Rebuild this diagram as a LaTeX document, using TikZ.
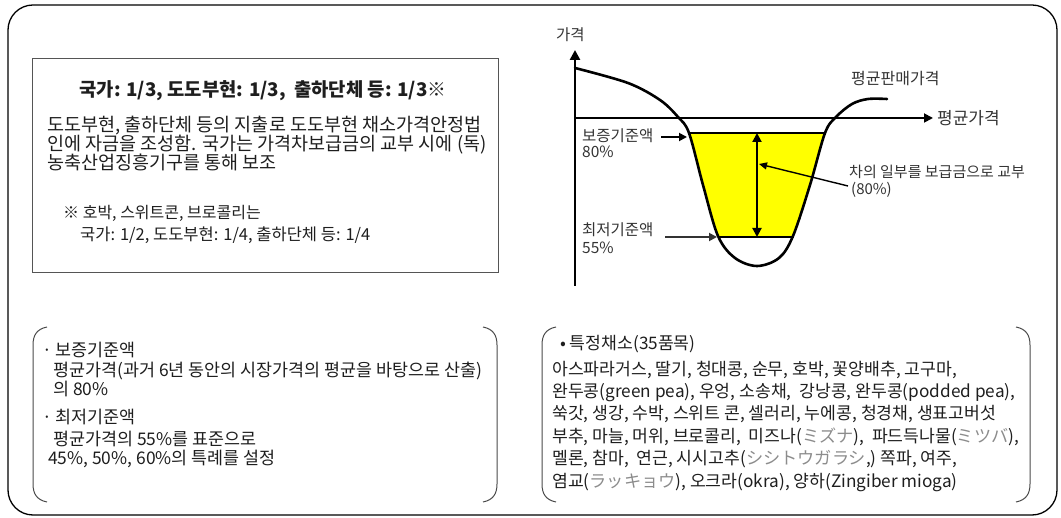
\documentclass[tikz,border=0pt]{standalone}
\usepackage{fontspec}
\setmainfont{Noto Sans CJK KR}
\usetikzlibrary{arrows.meta}
\definecolor{txt}{HTML}{1E1E1E}
\definecolor{ctxt}{HTML}{333333}
\definecolor{kana}{HTML}{8C8C8C}
\definecolor{boxline}{HTML}{555555}
\definecolor{brk}{HTML}{4A4A4A}
\definecolor{yel}{HTML}{FFFF00}
\newcommand\myfs[1]{\fontsize{#1}{#1}\selectfont}
\newcommand\kn[1]{\textcolor{kana}{#1}}
\begin{document}
\begin{tikzpicture}[x=1pt,y=-1pt,
  tl/.style={anchor=base west,inner sep=0pt,text=txt},
  tc/.style={anchor=base,inner sep=0pt,text=txt},
  cl/.style={anchor=base west,inner sep=0pt,text=ctxt},
  bracket/.style={draw=brk,line width=1pt},
  curveline/.style={line width=2.6pt,line join=round,line cap=round},
  thinline/.style={line width=1.8pt},
  tip/.style={-{Triangle[length=8pt,width=8pt]}}
]
\useasboundingbox (0,0) rectangle (1061,518);
% outer frame
\draw[line width=1.3pt,rounded corners=25pt] (8,5) rectangle (1057,515);

% ---------- top-left box ----------
\draw[boxline,line width=1pt] (32,59) rectangle (498,273);
\node[tc,font=\myfs{18.8}\bfseries] (title) at (263,97) {국가: 1/3, 도도부현: 1/3,\ \ 출하단체 등: 1/3※};
\node[tl,font=\myfs{18.5}] (b1) at (47,132) {도도부현, 출하단체 등의 지출로 도도부현 채소가격안정법};
\node[tl,font=\myfs{18.5}] (b2) at (47,150.5) {인에 자금을 조성함. 국가는 가격차보급금의 교부 시에 (독)};
\node[tl,font=\myfs{18.5}] (b3) at (47,170) {농축산업징흥기구를 통해 보조};
\node[tl,font=\myfs{16}] (n1) at (63,219) {※ 호박, 스위트콘, 브로콜리는};
\node[tl,font=\myfs{16.5}] (n2) at (80,241) {국가: 1/2, 도도부현: 1/4, 출하단체 등: 1/4};

% ---------- chart ----------
\coordinate (yb) at (575,286);
\coordinate (yt) at (575,50);
\coordinate (ao) at (575,118);
\coordinate (ae) at (933,118);
\draw[line width=2.6pt,-{Triangle[length=10pt,width=10pt]}] (yb) -- (yt);
\begin{scope}
  \clip (600,133) rectangle (900,237);
  \fill[yel] plot[smooth,tension=0.55] coordinates {(660,100) (678,117) (689,133) (703,185) (718,236) (735,258) (757,266) (779,258) (793,236) (810,185) (825,133) (836,117) (852,104)} -- cycle;
\end{scope}
\draw[line width=1.8pt,-{Triangle[length=9pt,width=9pt]}] (ao) -- (ae);
\coordinate (h1a) at (689,133);
\coordinate (h1b) at (826,133);
\coordinate (h2a) at (718,237);
\coordinate (h2b) at (794,237);
\draw[thinline] (h1a) -- (h1b);
\draw[thinline] (h2a) -- (h2b);
\draw[curveline] plot[smooth,tension=0.55] coordinates {(575,68) (628,83) (660,100) (678,117) (689,133) (703,185) (718,236) (735,258) (757,266) (779,258) (793,236) (810,185) (825,133) (836,117) (852,104) (868,99) (887,99)};
\coordinate (va) at (757,133);
\coordinate (vb) at (757,237);
\draw[line width=2pt,{Triangle[length=9pt,width=9pt]}-{Triangle[length=9pt,width=9pt]}] (va) -- (vb);

\node[cl,font=\myfs{15.5}] (ylab) at (556,41) {가격};
\node[cl,font=\myfs{16}] (pmp) at (851,85) {평균판매가격};
\node[cl,font=\myfs{17}] (avg) at (937,124.5) {평균가격};
\node[cl,font=\myfs{15.5}] (bz) at (582,142) {보증기준액};
\node[cl,font=\myfs{15.5}] (bz2) at (582,158) {80\%};
\node[cl,font=\myfs{15.5}] (cz) at (582,236) {최저기준액};
\node[cl,font=\myfs{15.5}] (cz2) at (582,254) {55\%};
\node[cl,font=\myfs{15}] (ch) at (849,178) {차의 일부를 보급금으로 교부};
\node[cl,font=\myfs{15}] (ch2) at (851,195) {(80\%)};

\coordinate (bza) at (661,137);
\coordinate (bzb) at (687,137);
\draw[line width=1.8pt,tip] (bza) -- (bzb);
\coordinate (cza) at (665,237);
\coordinate (czb) at (717,237);
\draw[line width=1.8pt,draw=ctxt,-{Triangle[length=8pt,width=8pt]},ctxt] (cza) -- (czb);
\coordinate (pa) at (848,186);
\coordinate (pb) at (759,164);
\draw[line width=1.4pt,-{Triangle[length=8pt,width=7pt]}] (pa) -- (pb);

% ---------- bottom-left bracket box ----------
\draw[bracket] (47,327) .. controls (37,329) and (33,335) .. (33,345) -- (33,484) .. controls (33,494) and (37,500) .. (47,502);
\draw[bracket] (483,327) .. controls (493,329) and (497,335) .. (497,345) -- (497,484) .. controls (497,494) and (493,500) .. (483,502);
\node[tl,font=\myfs{17.4}] (l1) at (42,357) {· 보증기준액};
\node[tl,font=\myfs{17.4}] (l2) at (53,377) {평균가격(과거 6년 동안의 시장가격의 평균을 바탕으로 산출)};
\node[tl,font=\myfs{17.4}] (l3) at (53,396) {의 80\%};
\node[tl,font=\myfs{17.4}] (l4) at (42,424) {· 최저기준액};
\node[tl,font=\myfs{17.4}] (l5) at (53,446) {평균가격의 55\%를 표준으로};
\node[tl,font=\myfs{17.4}] (l6) at (48,465) {45\%, 50\%, 60\%의 특례를 설정};

% ---------- bottom-right bracket box ----------
\draw[bracket] (556,327) .. controls (546,329) and (542,335) .. (542,345) -- (542,484) .. controls (542,494) and (546,500) .. (556,502);
\draw[bracket] (1016,327) .. controls (1026,329) and (1030,335) .. (1030,345) -- (1030,484) .. controls (1030,494) and (1026,500) .. (1016,502);
\node[tl,font=\myfs{17.2}] (r0) at (560,350) {• 특정채소(35품목)};
\node[tl,font=\myfs{17.2}] (r1) at (552,376) {아스파라거스, 딸기, 청대콩, 순무, 호박, 꽃양배추, 고구마,};
\node[tl,font=\myfs{17.2}] (r2) at (552,398) {완두콩(green pea), 우엉, 소송채,\ \ 강낭콩, 완두콩(podded pea),};
\node[tl,font=\myfs{17.2}] (r3) at (552,420) {쑥갓, 생강, 수박, 스위트 콘, 셀러리, 누에콩, 청경채, 생표고버섯};
\node[tl,font=\myfs{17.2}] (r4) at (552,443) {부추, 마늘, 머위, 브로콜리,\ \ 미즈나(\kn{ミズナ}),\ \ 파드득나물(\kn{ミツバ}),};
\node[tl,font=\myfs{17.2}] (r5) at (552,465) {멜론, 참마,\ \ 연근, 시시고추(\kn{シシトウガラシ},) 쪽파, 여주,};
\node[tl,font=\myfs{17.2}] (r6) at (552,488) {염교(\kn{ラッキョウ}), 오크라(okra), 양하(Zingiber mioga)};
\end{tikzpicture}
\end{document}
